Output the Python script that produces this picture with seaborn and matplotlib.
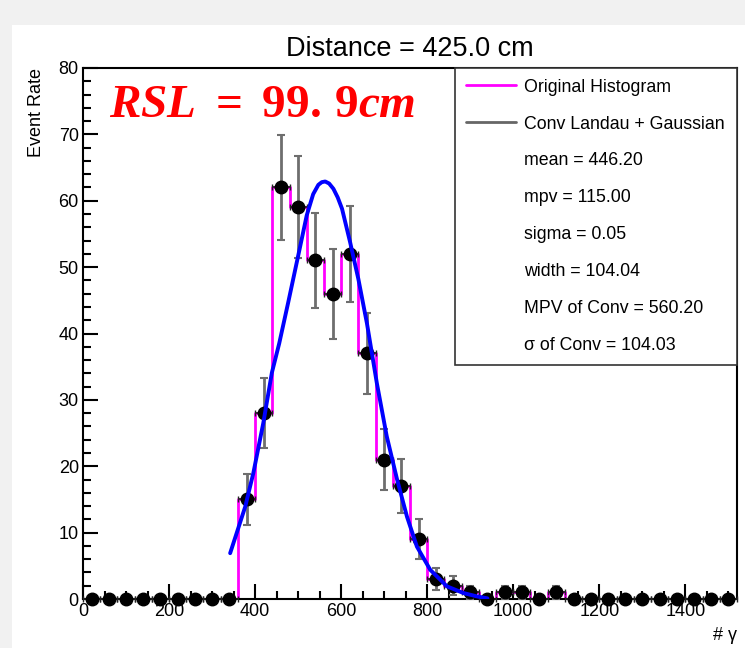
import numpy as np
import pandas as pd
import matplotlib
matplotlib.use("Agg")
import matplotlib.pyplot as plt
from matplotlib.lines import Line2D
from matplotlib.patches import Rectangle
from matplotlib.ticker import MultipleLocator
import seaborn as sns

# histogram: 38 bins of width 40 from 0 to 1520
bin_edges = list(range(0, 1521, 40))
bin_centers = [e + 20 for e in bin_edges[:-1]]
counts = [0, 0, 0, 0, 0, 0, 0, 0, 0,
          15, 28, 62, 59, 51, 46, 52, 37, 21, 17, 9, 3, 2, 1,
          0, 1, 1, 0, 1,
          0, 0, 0, 0, 0, 0, 0, 0, 0, 0]
errors = [0, 0, 0, 0, 0, 0, 0, 0, 0,
          3.9, 5.3, 7.9, 7.7, 7.1, 6.8, 7.2, 6.1, 4.6, 4.1, 3.0, 1.7, 1.4, 1.0,
          0, 1.0, 1.0, 0, 1.0,
          0, 0, 0, 0, 0, 0, 0, 0, 0, 0]

# fitted curve (Conv Landau + Gaussian)
fit_x = [342, 377, 396, 419, 439, 456, 477, 505, 520, 535, 547, 555, 563,
         572, 582, 592, 602, 621, 640, 660, 683, 706, 730, 753, 776, 807,
         846, 884, 915, 940]
fit_y = [6.9, 13.9, 19.0, 26.5, 34.1, 38.5, 44.7, 53.2, 57.8, 61.0, 62.4,
         62.8, 62.9, 62.6, 61.8, 60.5, 58.8, 53.7, 48.2, 41.5, 32.5, 24.5,
         18.0, 12.4, 7.9, 4.4, 1.9, 0.9, 0.4, 0.1]

legend_labels = ["Original Histogram", "Conv Landau + Gaussian",
                 "mean = 446.20", "mpv = 115.00", "sigma = 0.05",
                 "width = 104.04", "MPV of Conv = 560.20", "\u03c3 of Conv = 104.03"]

hist_df = pd.DataFrame({"center": bin_centers, "count": counts})

sns.set_style("ticks")
plt.rcParams["font.family"] = ["Liberation Sans", "DejaVu Sans"]
plt.rcParams["mathtext.fontset"] = "custom"
plt.rcParams["mathtext.it"] = "Liberation Serif:italic:bold"
plt.rcParams["mathtext.rm"] = "Liberation Serif:bold"
plt.rcParams["text.color"] = "black"
plt.rcParams["axes.labelcolor"] = "black"
plt.rcParams["xtick.color"] = "black"
plt.rcParams["ytick.color"] = "black"
plt.rcParams["axes.edgecolor"] = "black"

fig = plt.figure(figsize=(7.45, 6.48), dpi=100, facecolor="#f1f1f1")
fig.patches.append(Rectangle((12 / 745, 0), 1, 623 / 648, transform=fig.transFigure,
                             facecolor="white", edgecolor="none", zorder=-10))
ax = fig.add_axes([83 / 745, 1 - 599 / 648, 654 / 745, 531 / 648])

sns.histplot(data=hist_df, x="center", weights="count", bins=bin_edges,
             element="step", fill=False, color="#ff00ff", linewidth=2, ax=ax)

# horizontal bin-width bars
ax.errorbar(bin_centers, counts, xerr=20, fmt="none", ecolor="#222222",
            elinewidth=1.2, capsize=2.5, clip_on=False, zorder=3)
# vertical error bars + markers
y_err = [e if e > 0 else np.nan for e in errors]
ax.errorbar(bin_centers, counts, yerr=y_err, fmt="o", color="black",
            ecolor="#6e6e6e", elinewidth=2, capsize=3, capthick=1.5,
            markersize=9, clip_on=False, zorder=4)

sns.lineplot(x=fit_x, y=fit_y, color="#0000ff", linewidth=2.8, sort=False,
             ax=ax, zorder=5)

ax.set_xlim(0, 1520)
ax.set_ylim(0, 80)
ax.xaxis.set_major_locator(MultipleLocator(200))
ax.xaxis.set_minor_locator(MultipleLocator(50))
ax.yaxis.set_major_locator(MultipleLocator(10))
ax.yaxis.set_minor_locator(MultipleLocator(2))
ax.tick_params(which="both", direction="in", width=1.5, labelsize=13,
               pad=3, top=False, right=False)
ax.tick_params(which="major", length=11)
ax.tick_params(which="minor", length=6)
for s in ax.spines.values():
    s.set_linewidth(1.5)

ax.set_title("Distance = 425.0 cm", fontsize=19.5, pad=9)
ax.set_ylabel("Event Rate", loc="top", fontsize=13)
ax.yaxis.set_label_coords(-0.058, 1.0)
ax.set_xlabel("# \u03b3", loc="right", fontsize=13)
ax.xaxis.set_label_coords(1.0, -0.052)

ax.text(0.04, 0.972, r"$RSL\ =\ 99.\,9cm$", transform=ax.transAxes, color="red",
        fontsize=34, ha="left", va="top")

handles = [Line2D([], [], color="#ff00ff", linewidth=2),
           Line2D([], [], color="#666666", linewidth=2)]
handles += [Line2D([], [], linestyle="none") for _ in legend_labels[2:]]
leg = ax.legend(handles, legend_labels, loc="upper left",
                bbox_to_anchor=(0.569, 1.0, 0.431, 0), mode="expand",
                borderaxespad=0, fancybox=False, framealpha=1,
                edgecolor="#333333", fontsize=12.8, labelspacing=1.12,
                handlelength=2.8, handletextpad=0.45, borderpad=0.6)
leg.get_frame().set_linewidth(1.2)

fig.savefig("out.png", dpi=100, facecolor=fig.get_facecolor())
